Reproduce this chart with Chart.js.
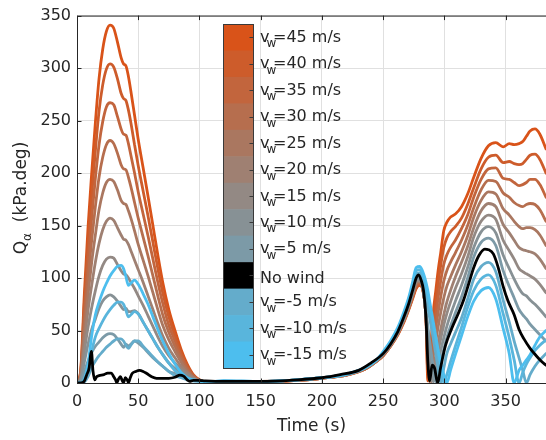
<!DOCTYPE html>
<html><head><meta charset="utf-8">
<script src="https://cdn.jsdelivr.net/npm/chart.js@4.4.0/dist/chart.umd.min.js"></script>
<style>html,body{margin:0;padding:0;background:#fff;}#wrap{width:546px;height:440px;}</style>
</head><body><div id="wrap"><canvas id="c" width="546" height="440"></canvas></div>
<script>
// ---- data ----
const time = [0,3,6,9,12,15,18,21,24,27,30,33,36,38,40,42,44,47,50,54,58,62,66,70,75,80,85,90,95,100,105,
  120,150,180,200,220,235,245,
  250,256,262,267,271,274,277,280,283,285,286.5,288,289.5,291,293,295,297,299.5,302,305,309,314,319,324,330,336,342,348,353,357,361,364,367,370,374,378,383];

const qW45 = [0,12,85,148,200,248,290,318,335,341,338,325,310,304,302,292,278,255,232,205,178,150,122,96,70,50,32,18,8,3,1,
  1.5,1,2.5,4.5,7.5,13,21,
  26,35,46,58,70,80,90,93,85,62,2,20,45,68,88,108,124,145,153,158,161,168,180,196,214,226,229,225,228,227,228,230,235,240,242,237,223];
const qW40 = [0,11,76,132,179,221,259,284,299,304,301,290,276,271,269,260,248,227,207,183,159,134,109,86,63,45,29,16,7,3,1,
  1.5,1,2.5,4.5,7.5,13,21,
  26,35,46,59,71,81,91,94,85,62,10,14,37,58,77,96,112,129,138,144,149,157,170,186,204,215,217,210,211,209,208,209,213,217,218,213,200];
const qW35 = [0,9,67,116,157,195,227,249,263,267,265,254,242,237,236,228,217,200,182,161,140,118,96,76,55,40,26,15,7,2.5,1,
  1.5,1,2.5,4.5,7.5,13,21,
  26,35,47,59,71,82,92,95,86,62,18,8,29,48,65,82,97,113,122,129,136,147,160,177,194,204,205,195,194,191,188,189,191,194,194,189,177];
const qW30 = [0,8,57,100,136,168,196,215,227,231,228,219,208,204,203,196,187,172,157,139,121,102,83,65,48,35,23,13,6,2.5,1,
  1.5,1.5,2.5,4.5,8,13.5,21,
  27,36,47,60,72,83,94,96,86,63,28,1,20,37,53,68,82,97,107,115,124,136,150,167,184,193,192,181,177,172,169,168,170,171,170,165,154];
const qW25 = [0,7,48,84,115,141,165,181,191,194,192,184,174,171,170,164,157,145,132,117,102,86,70,55,41,30,20,11,5,2,1,
  1.5,1.5,2.5,4.5,8,13.5,21.5,
  27,36,47,60,73,84,95,97,86,63,34,4,12,26,40,54,67,81,92,101,112,125,140,158,174,182,180,166,160,154,149,147,148,148,146,141,131];
const qW20 = [0,5,39,69,93,115,133,146,154,157,155,148,141,137,136,132,126,117,108,96,83,70,57,45,33,24,16,10,5,2,1,
  1.5,1.5,3,5,8,14,22,
  27,36,48,61,73,84,96,97,87,64,40,16,1,13,26,39,51,65,77,88,101,115,130,148,164,171,168,151,143,136,129,127,126,125,123,118,109];
const qW15 = [0,4,30,53,72,88,102,112,118,120,119,113,107,104,103,100,96,90,83,74,64,54,44,35,26,19,13,8,4,2,1,
  1.5,1.5,3,5,8,14,22,
  27,36,48,61,74,85,97,98,87,65,44,23,2,9,20,31,42,55,66,77,90,104,120,139,154,160,156,136,126,118,109,106,104,102,99,94,86];
const qW10 = [0,3,20,37,51,61,71,78,82,84,82,78,73,70,71,68,68,69,66,58,50,42,34,27,19,14,10,6,3,2,1,
  1.5,1.5,3,5,8,14,22,
  28,37,48,62,75,86,99,99,87,66,48,30,14,1,11,21,31,43,54,65,78,93,110,129,144,149,143,122,109,99,90,85,83,79,75,70,63];
const qW5 = [0,1,11,21,29,35,39,43,46,47,46,42,37,34,37,35,37,40,38,34,29,24,20,16,11,9,7,5,3,2,1,
  1.5,1.5,3,5,8,14,22,
  28,37,49,62,75,87,100,100,88,68,54,40,27,14,1,10,20,32,43,54,67,82,100,120,134,138,131,107,92,81,70,65,61,56,51,46,40];
const qWm5 = [0,0,1,6,15,21,26,30,34,37,40,42,42,40,36,33,36,40,40,35,30,25,20,16,11,7,5,3,2,1.5,1,
  2,1.5,3,5,8.5,14.5,22.5,
  29,38,50,65,79,91,104,105,95,82,72,62,52,42,28,14,0,14,28,37,48,62,80,99,111,115,106,79,58,40,24,12,0,8,16,22,28];
const qWm10 = [0,0,3,12,30,44,52,59,65,70,74,77,77,75,69,63,65,68,66,58,50,42,34,27,19,12,7,4,2,2,1,
  2,1.5,3,5,8.5,14.5,22.5,
  29,39,51,66,80,93,107,108,99,90,82,73,63,53,40,27,15,0,8,20,35,53,72,88,99,103,93,66,43,22,0,10,18,24,31,36,41];
const qWm15 = [0,0,4,18,45,65,77,87,95,102,107,111,112,109,101,93,95,98,94,85,75,63,51,40,28,18,10,5,3,2,1,
  2,1.5,3,5,8.5,14.5,22.5,
  30,40,53,68,82,96,110,111,104,96,88,78,68,58,44,31,19,8,0,12,27,45,63,78,88,91,80,52,28,0,12,17,22,27,36,44,50];

const timeNoWind = [0,3,6,8,10,11,11.8,13,14.5,16,18,22,25,28,30,31.5,32.5,34,35.5,37,38,39.5,41,42,43.5,45,48,51,54,57,
  61,65,70,75,80,84,87,90,92,95,98,105,120,150,180,200,215,230,240,250,256,262,267,271,274,277,279,281,283,285,
  286.5,288,290,292,294.5,297,301,306,312,316,320,324,328,333,336,340,344,348,352,357,361,365,370,375,379,383];
const qNoWind = [0,0,2,8,15,26,30,12,3,6,7,8,9.5,9.5,6,3,0.5,4,6,2,0.5,5,3,0.5,5,9,11,12,11,9,
  6,4.5,4.5,4.5,5.5,7.5,6.5,3,1.5,2.5,2.5,2,1.5,1.5,3,5,8,12,19,28,37,49,63,76,88,100,103,98,88,62,
  20,2,17,14,0,15,36,52,68,80,95,110,121,127.5,127,123,110,92,78,65,51,42,33,26,21,17];

const windSpeeds = [45,40,35,30,25,20,15,10,5,0,-5,-10,-15];
const xTicks = [0,50,100,150,200,250,300,350];
const yTicks = [0,50,100,150,200,250,300,350];

// ---- styles ----
const colorOf = {45:'#D95319',40:'#CD5C2B',35:'#C2653D',30:'#B66E4E',25:'#AA7760',20:'#9F8072',15:'#938984',
  10:'#879195',5:'#7C9AA7',0:'#000000','-5':'#64ACCB','-10':'#59B5DC','-15':'#4DBEEE'};
const valuesOf = {45:qW45,40:qW40,35:qW35,30:qW30,25:qW25,20:qW20,15:qW15,10:qW10,5:qW5,'-5':qWm5,'-10':qWm10,'-15':qWm15};
const FONT = "'DejaVu Sans', 'Liberation Sans', Arial, sans-serif";
const AXC = '#262626';

function pts(t, v){ return t.map((x,i)=>({x:x, y:v[i]})); }
function ds(label, t, v, color){
  return {label, data: pts(t,v), borderColor: color, backgroundColor: color, borderWidth: 2.8,
    pointRadius: 0, cubicInterpolationMode: 'monotone', fill: false, borderCapStyle:'round', borderJoinStyle:'round'};
}
// draw order: first dataset is on top
const drawOrder = [-15,-10,-5,5,10,15,20,25,30,35,40,45];
const datasets = [ds('No wind', timeNoWind, qNoWind, colorOf[0])]
  .concat(drawOrder.map(w => ds('vw=' + w, time, valuesOf[w], colorOf[w])));

const frame = {
  id: 'frame',
  afterDatasetsDraw(chart){
    const {ctx, chartArea:a, scales:{x, y}} = chart;
    ctx.save();
    ctx.strokeStyle = AXC; ctx.lineWidth = 1;
    ctx.beginPath();
    ctx.moveTo(a.right+1, a.top+0.5); ctx.lineTo(Math.round(a.left)+0.5, a.top+0.5);
    ctx.lineTo(Math.round(a.left)+0.5, Math.round(a.bottom)+0.5); ctx.lineTo(a.right+1, Math.round(a.bottom)+0.5);
    ctx.stroke();
    const L = 4.5;
    ctx.beginPath();
    xTicks.forEach(v => { const px = Math.round(x.getPixelForValue(v))+0.5;
      ctx.moveTo(px, a.bottom); ctx.lineTo(px, a.bottom - L);
      ctx.moveTo(px, a.top); ctx.lineTo(px, a.top + L); });
    yTicks.forEach(v => { const py = Math.round(y.getPixelForValue(v))+0.5;
      ctx.moveTo(a.left, py); ctx.lineTo(a.left + L, py); });
    ctx.stroke();
    ctx.restore();
  },
  afterDraw(chart){
    const {ctx, chartArea:a} = chart;
    ctx.save();
    ctx.fillStyle = AXC;
    // x title
    ctx.font = '17px ' + FONT; ctx.textAlign = 'center'; ctx.textBaseline = 'alphabetic';
    ctx.fillText('Time (s)', (a.left + a.right)/2, 431);
    // y title with subscript
    ctx.translate(26, 198); ctx.rotate(-Math.PI/2);
    ctx.textAlign = 'left';
    ctx.font = '17px ' + FONT; const wQ = ctx.measureText('Q').width;
    ctx.font = '12px ' + FONT; const wA = ctx.measureText('\u03B1').width;
    ctx.font = '17px ' + FONT; const wR = ctx.measureText('  (kPa.deg)').width;
    let s = -(wQ + wA + wR)/2;
    ctx.fillText('Q', s, 0);
    ctx.font = '12px ' + FONT; ctx.fillText('\u03B1', s + wQ, 5);
    ctx.font = '17px ' + FONT; ctx.fillText('  (kPa.deg)', s + wQ + wA, 0);
    ctx.restore();

    // legend (colour-bar style)
    ctx.save();
    const bx = 223, bw = 30, top = 24, bot = 368, n = windSpeeds.length, rh = (bot - top)/n;
    windSpeeds.forEach((w, i) => {
      ctx.fillStyle = colorOf[w];
      ctx.fillRect(bx, top + i*rh, bw, rh + 0.6);
    });
    ctx.strokeStyle = '#3a3a3a'; ctx.lineWidth = 1;
    ctx.strokeRect(bx + 0.5, top + 0.5, bw, bot - top);
    ctx.beginPath();
    windSpeeds.forEach((w, i) => { const cy = Math.round(top + (i+0.5)*rh) + 0.5;
      ctx.moveTo(bx + bw, cy); ctx.lineTo(bx + bw - 3.5, cy); });
    ctx.stroke();
    ctx.fillStyle = AXC; ctx.textAlign = 'left'; ctx.textBaseline = 'alphabetic';
    windSpeeds.forEach((w, i) => {
      const cy = top + (i+0.5)*rh;
      if (w === 0) {
        ctx.font = '16px ' + FONT; ctx.fillText('No wind', 260, cy + 7.5);
      } else {
        ctx.font = '16px ' + FONT; ctx.fillText('v', 260, cy + 4.5);
        ctx.font = '12px ' + FONT; ctx.fillText('w', 266.5, cy + 10);
        ctx.font = '16px ' + FONT; ctx.fillText('=' + w + ' m/s', 273, cy + 4.5);
      }
    });
    ctx.restore();
  }
};

new Chart(document.getElementById('c'), {
  type: 'line',
  data: { datasets },
  options: {
    responsive: false, animation: false, devicePixelRatio: 1,
    layout: { padding: { top: 10, left: 0, right: 0, bottom: 0 } },
    plugins: { legend: { display: false }, tooltip: { enabled: false } },
    scales: {
      x: { type: 'linear', min: 0, max: 383,
        afterBuildTicks: s => { s.ticks = xTicks.map(v => ({value: v})); },
        afterFit: s => { s.height = 57; },
        grid: { color: '#e0e0e0', lineWidth: 1, drawTicks: false },
        border: { display: false },
        ticks: { color: AXC, font: { family: FONT, size: 16 }, padding: 9, maxRotation: 0 } },
      y: { type: 'linear', min: 0, max: 350,
        afterBuildTicks: s => { s.ticks = yTicks.map(v => ({value: v})); },
        afterFit: s => { s.width = 77; },
        grid: { color: '#e0e0e0', lineWidth: 1, drawTicks: false },
        border: { display: false },
        ticks: { color: AXC, font: { family: FONT, size: 16 }, padding: 6 } }
    }
  },
  plugins: [frame]
});
</script></body></html>
